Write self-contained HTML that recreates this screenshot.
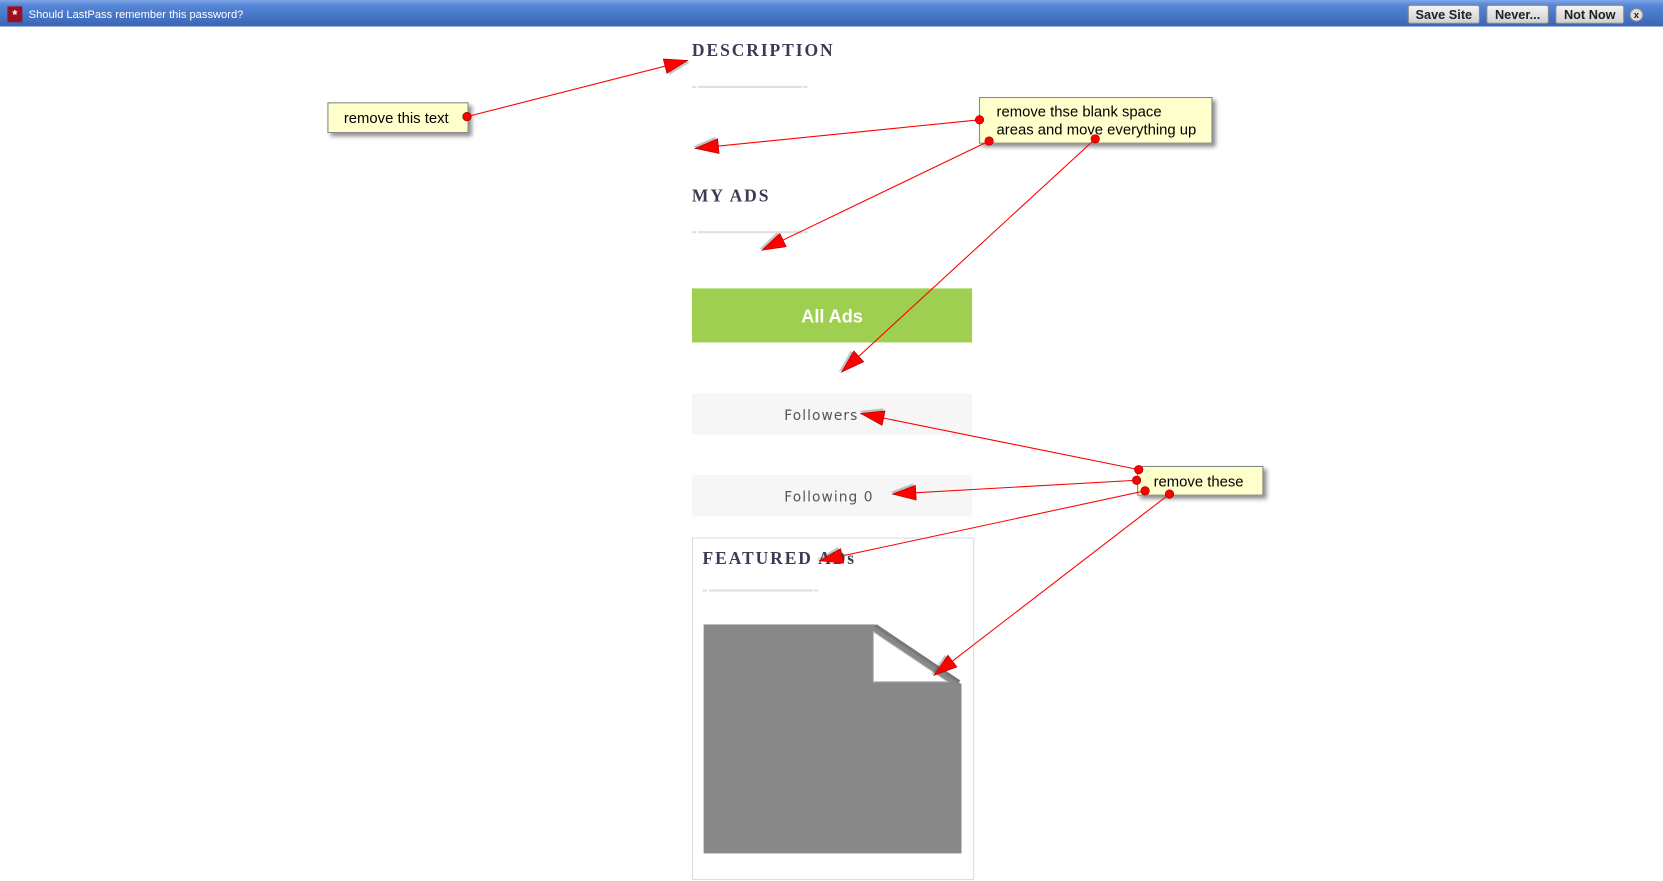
<!DOCTYPE html>
<html><head><meta charset="utf-8"><style>
html,body{margin:0;padding:0;background:#fff;width:1663px;height:881px;overflow:hidden}
svg{display:block}
</style></head><body>
<svg width="1663" height="881" viewBox="0 0 1567 831" preserveAspectRatio="none" xmlns="http://www.w3.org/2000/svg">
<defs>
<linearGradient id="tb" x1="0" y1="0" x2="0" y2="1"><stop offset="0" stop-color="#7fa6e6"/><stop offset="0.2" stop-color="#5686d8"/><stop offset="1" stop-color="#3a64b4"/></linearGradient>
<linearGradient id="bt" x1="0" y1="0" x2="0" y2="1"><stop offset="0" stop-color="#f4f4f4"/><stop offset="1" stop-color="#cfcfcf"/></linearGradient>
<marker id="ah" markerUnits="userSpaceOnUse" markerWidth="24" markerHeight="16" refX="22" refY="7" orient="auto" overflow="visible">
<path d="M24,9 L2,2 L2,16 z" fill="#555" opacity="0.35"/>
<path d="M22,7 L0,0 L0,14 z" fill="#f00" stroke="#a00" stroke-width="0.6"/>
</marker>
<filter id="sh" x="-20%" y="-20%" width="140%" height="160%"><feDropShadow dx="3" dy="3" stdDeviation="2" flood-color="#000" flood-opacity="0.45"/></filter>
</defs>
<rect x="0" y="0" width="1567" height="25" fill="url(#tb)"/>
<rect x="7" y="6" width="14" height="15" fill="#9b1020"/>
<text x="14" y="18" font-family="Liberation Sans,sans-serif" font-size="12" fill="#fff" text-anchor="middle" font-weight="bold">*</text>
<text x="27" y="17" font-family="Liberation Sans,sans-serif" font-size="10.5" fill="#fff">Should LastPass remember this password?</text>
<g font-family="Liberation Sans,sans-serif" font-size="12" font-weight="bold" fill="#222" text-anchor="middle">
<rect x="1327" y="5" width="67" height="17" rx="2" fill="url(#bt)" stroke="#888"/><text x="1360.5" y="18">Save Site</text>
<rect x="1401" y="5" width="58" height="17" rx="2" fill="url(#bt)" stroke="#888"/><text x="1430" y="18">Never...</text>
<rect x="1466" y="5" width="64" height="17" rx="2" fill="url(#bt)" stroke="#888"/><text x="1498" y="18">Not Now</text>
<circle cx="1542" cy="14" r="6" fill="#ddd" stroke="#888"/><text x="1542" y="17" font-size="9">x</text>
</g>
<g font-family="Liberation Serif,serif" font-weight="bold" font-size="16.5" fill="#3c3b55" letter-spacing="1.8">
<text x="652" y="53">DESCRIPTION</text>
<text x="652" y="190">MY ADS</text>
<text x="662" y="532">FEATURED ADs</text>
</g>
<g fill="#e0e0e0">
<rect x="652" y="81" width="4" height="2"/><rect x="658" y="81" width="98" height="2"/><rect x="757" y="81" width="4" height="2"/>
<rect x="652" y="218" width="4" height="2"/><rect x="658" y="218" width="98" height="2"/><rect x="757" y="218" width="4" height="2"/>
<rect x="662" y="556" width="4" height="2"/><rect x="668" y="556" width="98" height="2"/><rect x="767" y="556" width="4" height="2"/>
</g>
<rect x="652" y="272" width="264" height="51" fill="#9ecf50"/>
<text x="784" y="304" font-family="Liberation Sans,sans-serif" font-weight="bold" font-size="17" fill="#fff" text-anchor="middle">All Ads</text>
<rect x="652" y="371" width="264" height="39" fill="#f6f6f6"/>
<rect x="652" y="448" width="264" height="39" fill="#f6f6f6"/>
<g font-family="DejaVu Sans,sans-serif" font-size="13" fill="#555" letter-spacing="1">
<text x="739" y="396">Followers</text>
<text x="739" y="473">Following  0</text>
</g>
<rect x="652.5" y="507.5" width="265" height="322" fill="none" stroke="#ddd"/>
<rect x="663" y="589" width="243" height="216" fill="#888"/>
<polygon points="823,588 907,588 907,646" fill="#fff"/>
<line x1="825" y1="590" x2="904" y2="643" stroke="#777" stroke-width="3"/>
<polygon points="823,596 823,643 893,643" fill="#fff" stroke="#bbb" stroke-width="1"/>
<g font-family="Liberation Sans,sans-serif" font-size="14" fill="#000">
<rect x="309" y="97" width="132" height="28" fill="#ffffcc" stroke="#888" filter="url(#sh)"/>
<text x="324" y="116">remove this text</text>
<rect x="923" y="92" width="219" height="43" fill="#ffffcc" stroke="#888" filter="url(#sh)"/>
<text x="939" y="110">remove thse blank space</text>
<text x="939" y="127">areas and move everything up</text>
<rect x="1072" y="440" width="118" height="27" fill="#ffffcc" stroke="#888" filter="url(#sh)"/>
<text x="1087" y="459">remove these</text>
</g>
<g stroke="#f00" stroke-width="1" marker-end="url(#ah)">
<line x1="440" y1="110" x2="648" y2="57"/>
<line x1="923" y1="113" x2="655" y2="140"/>
<line x1="932" y1="133" x2="718" y2="236"/>
<line x1="1032" y1="131" x2="793" y2="351"/>
<line x1="1073" y1="443" x2="811" y2="390"/>
<line x1="1071" y1="453" x2="841" y2="466"/>
<line x1="1079" y1="463" x2="772" y2="529"/>
<line x1="1102" y1="466" x2="880" y2="637"/>
</g>
<g fill="#f00" stroke="#900" stroke-width="0.6">
<circle cx="440" cy="110" r="4"/><circle cx="923" cy="113" r="4"/><circle cx="932" cy="133" r="4"/><circle cx="1032" cy="131" r="4"/>
<circle cx="1073" cy="443" r="4"/><circle cx="1071" cy="453" r="4"/><circle cx="1079" cy="463" r="4"/><circle cx="1102" cy="466" r="4"/>
</g>
</svg>
</body></html>
